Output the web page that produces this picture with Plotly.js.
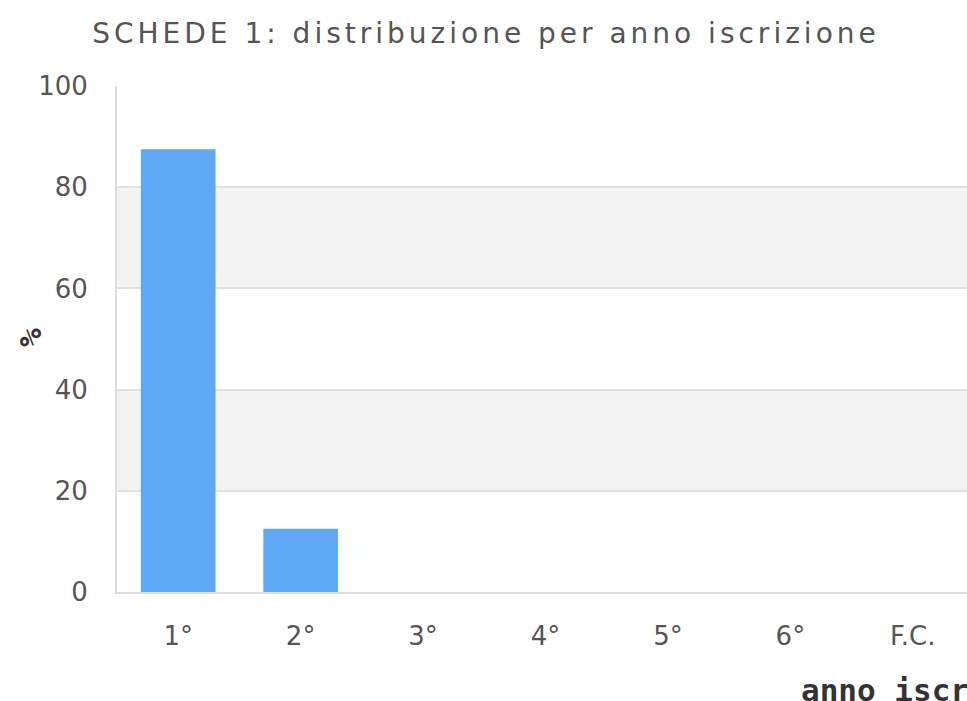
<!DOCTYPE html>
<html>
<head>
<meta charset="utf-8">
<script src="https://cdn.plot.ly/plotly-3.0.1.min.js"></script>
<style>
html, body { margin: 0; padding: 0; overflow: hidden; background: #fff; }
#chart { width: 1100px; height: 701px; }
#chart .gtitle { letter-spacing: 4px; }
</style>
</head>
<body>
<div id="chart"></div>
<script>
const categories = ["1°", "2°", "3°", "4°", "5°", "6°", "F.C."];
const percentages = [87.5, 12.5, 0, 0, 0, 0, 0];
const yTicks = [0, 20, 40, 60, 80, 100];
const chartTitle = "SCHEDE 1: distribuzione per anno iscrizione";
const xTitle = "anno iscrizione";
const yTitle = "%";

const W = 1100, H = 701;
const plotL = 117, plotR = 974, plotT = 86, plotB = 592;

// alternating background bands between ticks (20-40, 60-80)
const bands = [];
for (let i = 1; i < yTicks.length - 1; i += 2) {
  bands.push({
    type: 'rect', xref: 'paper', yref: 'y', layer: 'below',
    x0: 0, x1: 1, y0: yTicks[i], y1: yTicks[i + 1],
    fillcolor: '#f3f3f3', line: { width: 0 }
  });
}

const trace = {
  type: 'bar',
  x: categories,
  y: percentages,
  marker: { color: '#61a8f4', line: { width: 0 } },
  hoverinfo: 'x+y'
};

const monoBold = { family: 'DejaVu Sans Mono', size: 31, color: '#333333', weight: 'bold' };

const layout = {
  width: W, height: H,
  margin: { l: plotL, r: W - plotR, t: plotT, b: H - plotB, pad: 0 },
  paper_bgcolor: '#ffffff',
  plot_bgcolor: '#ffffff',
  showlegend: false,
  bargap: 0.39,
  font: { family: 'DejaVu Sans', color: '#555555' },
  title: {
    text: chartTitle,
    x: 486 / W, xref: 'container', xanchor: 'center',
    y: 1 - 33 / H, yref: 'container', yanchor: 'middle',
    font: { family: 'DejaVu Sans', size: 28, color: '#555555' }
  },
  xaxis: {
    type: 'category',
    tickfont: { family: 'DejaVu Sans', size: 26, color: '#555555' },
    ticks: '', ticklabelstandoff: 20,
    showline: true, linecolor: '#dddddd', linewidth: 2,
    showgrid: false, zeroline: false, fixedrange: true
  },
  yaxis: {
    range: [0, 100],
    tickvals: yTicks,
    tickfont: { family: 'DejaVu Sans', size: 26, color: '#555555' },
    ticks: '', ticklabelstandoff: 22,
    showline: true, linecolor: '#dddddd', linewidth: 2,
    showgrid: true, gridcolor: '#e0e0e0', gridwidth: 2,
    zeroline: false, fixedrange: true
  },
  shapes: bands,
  annotations: [{
    text: xTitle,
    xref: 'paper', yref: 'paper',
    x: (799 - plotL) / (plotR - plotL), xanchor: 'left',
    y: 0, yanchor: 'top', yshift: -78,
    showarrow: false,
    font: monoBold
  }, {
    text: yTitle,
    xref: 'paper', yref: 'paper',
    x: (30 - plotL) / (plotR - plotL), xanchor: 'center',
    y: 0.5, yanchor: 'middle', yshift: 1,
    textangle: -90,
    showarrow: false,
    font: monoBold
  }]
};

Plotly.newPlot('chart', [trace], layout, { displayModeBar: false, staticPlot: false });
</script>
</body>
</html>
